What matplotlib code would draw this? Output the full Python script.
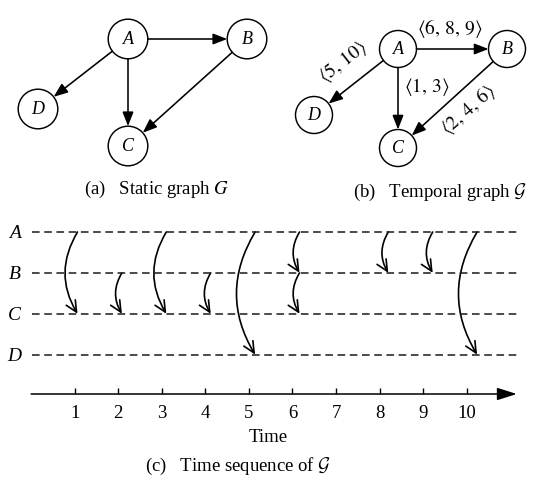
import matplotlib
matplotlib.use('Agg')
import matplotlib.pyplot as plt
from matplotlib.patches import Circle, FancyArrowPatch

plt.rcParams['font.family'] = ['Liberation Serif', 'DejaVu Serif']
plt.rcParams['mathtext.fontset'] = 'stix'

# ---------------- data ----------------
nodes = ['A', 'B', 'C', 'D']
static_edges = [('A', 'B'), ('A', 'C'), ('A', 'D'), ('B', 'C')]
edge_times = {('A', 'B'): [6, 8, 9],
              ('A', 'C'): [1, 3],
              ('A', 'D'): [5, 10],
              ('B', 'C'): [2, 4, 6]}
time_ticks = [1, 2, 3, 4, 5, 6, 7, 8, 9, 10]
time_tick_labels = [str(t) for t in time_ticks]
captions = [r'(a)   Static graph $G$',
            r'(b)   Temporal graph $\mathcal{G}$',
            r'(c)   Time sequence of $\mathcal{G}$']

# ---------------- layout (pixels) ----------------
W, H = 536, 482
pos_static = {'A': (128, 39), 'B': (247, 39), 'C': (128, 146), 'D': (38, 109)}
pos_temporal = {'A': (398, 49), 'B': (507, 49), 'C': (398, 148), 'D': (314, 115)}
label_layout = {('A', 'B'): (450, 29, 0), ('A', 'D'): (343, 62, 38),
                ('A', 'C'): (427, 87, 0), ('B', 'C'): (468, 110, 41)}

fig = plt.figure(figsize=(W / 100, H / 100), dpi=100)

# overlay axes in pixel coordinates for the two graph drawings
ax = fig.add_axes([0, 0, 1, 1])
ax.set_xlim(0, W)
ax.set_ylim(H, 0)
ax.axis('off')

px2pt = 72 / 100


def draw_graph(pos, r, edge_labels=None):
    for n in nodes:
        ax.add_patch(Circle(pos[n], r, fill=False, lw=1.05, ec='black'))
        ax.text(pos[n][0], pos[n][1] + 0.5, n, fontsize=13, style='italic',
                ha='center', va='center')
    for (s, d) in static_edges:
        arr = FancyArrowPatch(pos[s], pos[d],
                              arrowstyle='-|>,head_length=0.85,head_width=0.33',
                              mutation_scale=10, lw=1.15, color='black',
                              shrinkA=r * px2pt, shrinkB=r * px2pt)
        ax.add_patch(arr)
    if edge_labels:
        for e, times in edge_labels.items():
            x, y, rot = label_layout[e]
            txt = r'$\langle ' + r',\,'.join(str(t) for t in times) + r'\rangle$'
            ax.text(x, y, txt, fontsize=14, rotation=rot,
                    ha='center', va='center', rotation_mode='anchor')


draw_graph(pos_static, 19.8)
draw_graph(pos_temporal, 18.5, edge_times)

ax.text(157, 189, captions[0], fontsize=13.5, ha='center', va='center')
ax.text(440, 192, captions[1], fontsize=13.5, ha='center', va='center',
        math_fontfamily='cm')
ax.text(238, 466, captions[2], fontsize=13.5, ha='center', va='center',
        math_fontfamily='cm')

# ---------------- time-sequence panel ----------------
ev_slope, ev_icpt = 44.4, 33.1          # px per time unit for event arrows
row_gap, row0 = 40.87, 232.0
left_px, right_px, top_px, bot_px = 32, 518, 222, 364
ax_ev = fig.add_axes([left_px / W, 1 - bot_px / H,
                      (right_px - left_px) / W, (bot_px - top_px) / H])
ax_ev.set_xlim((left_px - ev_icpt) / ev_slope, (right_px - ev_icpt) / ev_slope)
ax_ev.set_ylim((bot_px - row0) / row_gap, (top_px - row0) / row_gap)
ax_ev.set_frame_on(False)
ax_ev.set_xticks([])
rows = {n: i for i, n in enumerate(nodes)}
ax_ev.set_yticks([rows[n] for n in nodes], nodes)
ax_ev.tick_params(axis='y', length=0, pad=8, labelsize=14)
for lab in ax_ev.get_yticklabels():
    lab.set_fontstyle('italic')
for n in nodes:
    ax_ev.axhline(rows[n], color='#1a1a1a', lw=1.1, ls=(0, (5, 3)))

events = sorted((t, s, d) for (s, d), ts in edge_times.items() for t in ts)
for t, s, d in events:
    a = FancyArrowPatch((t, rows[s]), (t, rows[d]),
                        connectionstyle='arc3,rad=0.3',
                        arrowstyle='->,head_length=0.8,head_width=0.38',
                        mutation_scale=10, lw=1.2, color='black',
                        shrinkA=0, shrinkB=0, clip_on=False)
    ax_ev.add_patch(a)

# time axis
t_slope, t_icpt, axis_px = 43.56, 31.1, 394
ax_t = fig.add_axes([0, 1 - axis_px / H, 1, 0.05])
ax_t.set_xlim(-t_icpt / t_slope, (W - t_icpt) / t_slope)
ax_t.set_ylim(0, 1)
ax_t.set_frame_on(False)
ax_t.set_yticks([])
ax_t.set_xticks(time_ticks, time_tick_labels)
ax_t.tick_params(axis='x', direction='in', length=4.3, width=1.0,
                 pad=8, labelsize=13.5)
ax_t.set_xlabel('Time', fontsize=13.5, labelpad=5)
ax_t.annotate('', xy=(11.15, 0), xytext=(0, 0), xycoords='data',
              arrowprops=dict(arrowstyle='-|>,head_length=1.2,head_width=0.38',
                              mutation_scale=10, lw=1.1, color='black',
                              shrinkA=0, shrinkB=0),
              annotation_clip=False)

fig.savefig('out.png', dpi=100)
